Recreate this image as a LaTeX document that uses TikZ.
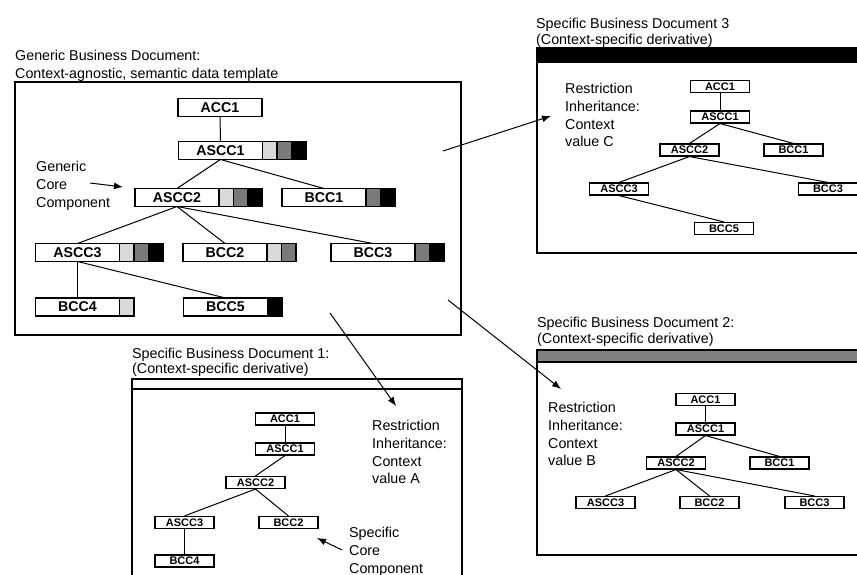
\documentclass[tikz,border=0pt]{standalone}
\usepackage{fontspec}
\setmainfont{Liberation Sans}
\usetikzlibrary{positioning,arrows.meta}

\definecolor{celllight}{HTML}{D9D9D9}
\definecolor{cellmid}{HTML}{7A7A7A}
\definecolor{headgray}{HTML}{808080}

\tikzset{
  gcc/.style={draw, line width=1.2pt, fill=white, outer sep=0pt, minimum width=84pt, minimum height=18pt, inner sep=0pt, font=\fontsize{14.2}{16}\selectfont\bfseries},
  gcell/.style={draw, line width=1.2pt, outer sep=0pt, minimum width=14.5pt, minimum height=18pt, inner sep=0pt, right=0pt of #1},
  scc/.style={draw, line width=1.1pt, fill=white, minimum width=59pt, minimum height=12pt, inner sep=0pt, font=\fontsize{11}{12}\selectfont\bfseries},
  lbl/.style={anchor=north west, inner sep=0pt, align=left, font=\fontsize{14.3}{17.8}\selectfont},
  link/.style={line width=1pt},
  pointer/.style={line width=1pt, -{Latex[length=9pt,width=7pt]}}
}

\begin{document}
\begin{tikzpicture}[x=1pt, y=-1pt]
\useasboundingbox (0,0) rectangle (857,575);
\clip (0,0) rectangle (857,575);

% Generic business document
\node[lbl] (g-title) at (15,49.8) {Generic Business Document:\\Context-agnostic, semantic data template};
\draw[line width=1.2pt] (15,82) rectangle (461,335);

\node[gcc] (g-acc1) at (220,107.5) {ACC1};
\node[gcc] (g-ascc1) at (220.5,150.5) {ASCC1};
\node[gcell=g-ascc1, fill=celllight] (g-ascc1-a) {};
\node[gcell=g-ascc1-a, fill=cellmid] (g-ascc1-b) {};
\node[gcell=g-ascc1-b, fill=black] (g-ascc1-c) {};
\node[gcc] (g-ascc2) at (177,197.5) {ASCC2};
\node[gcell=g-ascc2, fill=celllight] (g-ascc2-a) {};
\node[gcell=g-ascc2-a, fill=cellmid] (g-ascc2-b) {};
\node[gcell=g-ascc2-b, fill=black] (g-ascc2-c) {};
\node[gcc] (g-bcc1) at (324,197.5) {BCC1};
\node[gcell=g-bcc1, fill=cellmid] (g-bcc1-a) {};
\node[gcell=g-bcc1-a, fill=black] (g-bcc1-b) {};
\node[gcc] (g-ascc3) at (77.5,252.5) {ASCC3};
\node[gcell=g-ascc3, fill=celllight] (g-ascc3-a) {};
\node[gcell=g-ascc3-a, fill=cellmid] (g-ascc3-b) {};
\node[gcell=g-ascc3-b, fill=black] (g-ascc3-c) {};
\node[gcc] (g-bcc2) at (225,252.5) {BCC2};
\node[gcell=g-bcc2, fill=celllight] (g-bcc2-a) {};
\node[gcell=g-bcc2-a, fill=cellmid] (g-bcc2-b) {};
\node[gcc] (g-bcc3) at (373,252.5) {BCC3};
\node[gcell=g-bcc3, fill=cellmid] (g-bcc3-a) {};
\node[gcell=g-bcc3-a, fill=black] (g-bcc3-b) {};
\node[gcc] (g-bcc4) at (77.5,307) {BCC4};
\node[gcell=g-bcc4, fill=celllight] (g-bcc4-a) {};
\node[gcc] (g-bcc5) at (225.5,307) {BCC5};
\node[gcell=g-bcc5, fill=black] (g-bcc5-a) {};

\draw[link] (g-acc1) -- (g-ascc1);
\draw[link] (g-ascc1.south) -- (g-ascc2.north);
\draw[link] (g-ascc1.south) -- (g-bcc1.north);
\draw[link] (g-ascc2.south) -- (g-ascc3.north);
\draw[link] (g-ascc2.south) -- (g-bcc2.north);
\draw[link] (g-ascc2.south) -- (g-bcc3.north);
\draw[link] (g-ascc3) -- (g-bcc4);
\draw[link] (g-ascc3.south) -- (g-bcc5.north);

% Generic core component pointer
\node[lbl] (g-note) at (36,161) {Generic\\Core\\Component};
\coordinate (g-note-tail) at (90,183);
\coordinate (g-note-tip) at (123,187);
\draw[pointer] (g-note-tail) -- (g-note-tip);

% Specific business document 3
\node[lbl, font=\fontsize{14.3}{16.7}\selectfont] (c-title) at (536,17.5) {Specific Business Document 3\\(Context-specific derivative)};
\draw[line width=1.2pt] (537,48) rectangle (870,253);
\draw[line width=1.2pt, fill=black] (537,48) rectangle (870,62);
\node[lbl] (c-note) at (565,83) {Restriction\\Inheritance:\\Context\\value C};

\node[scc] (c-acc1) at (720,86.5) {ACC1};
\node[scc] (c-ascc1) at (720,117) {ASCC1};
\node[scc] (c-ascc2) at (689.5,150) {ASCC2};
\node[scc] (c-bcc1) at (793.5,150) {BCC1};
\node[scc] (c-ascc3) at (619,189) {ASCC3};
\node[scc] (c-bcc3) at (828,189) {BCC3};
\node[scc] (c-bcc5) at (724,228.5) {BCC5};

\draw[link] (c-acc1) -- (c-ascc1);
\draw[link] (c-ascc1.south) -- (c-ascc2.north);
\draw[link] (c-ascc1.south) -- (c-bcc1.north);
\draw[link] (c-ascc2.south) -- (c-ascc3.north);
\draw[link] (c-ascc2.south) -- (c-bcc3.north);
\draw[link] (c-ascc3.south) -- (c-bcc5.north);

% Specific business document 2
\node[lbl, font=\fontsize{14.3}{16}\selectfont] (b-title) at (537,317) {Specific Business Document 2:\\(Context-specific derivative)};
\draw[line width=1.2pt] (537,350) rectangle (870,555);
\draw[line width=1.2pt, fill=headgray] (537,350) rectangle (870,362);
\node[lbl] (b-note) at (548,402) {Restriction\\Inheritance:\\Context\\value B};

\node[scc] (b-acc1) at (705.5,399.5) {ACC1};
\node[scc] (b-ascc1) at (705.5,429) {ASCC1};
\node[scc] (b-ascc2) at (676,463) {ASCC2};
\node[scc] (b-bcc1) at (779.5,463) {BCC1};
\node[scc] (b-ascc3) at (605.5,502.5) {ASCC3};
\node[scc] (b-bcc2) at (709.5,502.5) {BCC2};
\node[scc] (b-bcc3) at (814.5,502.5) {BCC3};

\draw[link] (b-acc1) -- (b-ascc1);
\draw[link] (b-ascc1.south) -- (b-ascc2.north);
\draw[link] (b-ascc1.south) -- (b-bcc1.north);
\draw[link] (b-ascc2.south) -- (b-ascc3.north);
\draw[link] (b-ascc2.south) -- (b-bcc2.north);
\draw[link] (b-ascc2.south) -- (b-bcc3.north);

% Specific business document 1
\node[lbl, font=\fontsize{14.3}{15}\selectfont] (a-title) at (132,348) {Specific Business Document 1:\\(Context-specific derivative)};
\draw[line width=1.2pt] (132,379) rectangle (462,590);
\draw[line width=1.2pt, fill=white] (132,379) rectangle (462,389);
\node[lbl] (a-note) at (372,420) {Restriction\\Inheritance:\\Context\\value A};

\node[scc] (a-acc1) at (285,419) {ACC1};
\node[scc] (a-ascc1) at (285,449) {ASCC1};
\node[scc] (a-ascc2) at (255.5,482.5) {ASCC2};
\node[scc] (a-ascc3) at (184.5,522.5) {ASCC3};
\node[scc] (a-bcc2) at (288.5,522.5) {BCC2};
\node[scc] (a-bcc4) at (184.5,561) {BCC4};

\draw[link] (a-acc1) -- (a-ascc1);
\draw[link] (a-ascc1.south) -- (a-ascc2.north);
\draw[link] (a-ascc2.south) -- (a-ascc3.north);
\draw[link] (a-ascc2.south) -- (a-bcc2.north);
\draw[link] (a-ascc3) -- (a-bcc4);

% Specific core component pointer
\node[lbl] (a-cc-note) at (349,527) {Specific\\Core\\Component};
\coordinate (a-cc-tail) at (342,550);
\coordinate (a-cc-tip) at (317,538);
\draw[pointer] (a-cc-tail) -- (a-cc-tip);

% Derivation arrows
\coordinate (out-c) at (443,151);
\coordinate (in-c) at (551,116);
\coordinate (out-b) at (448,300);
\coordinate (in-b) at (561,389);
\coordinate (out-a) at (330,313);
\coordinate (in-a) at (396,406);
\draw[pointer] (out-c) -- (in-c);
\draw[pointer] (out-b) -- (in-b);
\draw[pointer] (out-a) -- (in-a);
\end{tikzpicture}
\end{document}
